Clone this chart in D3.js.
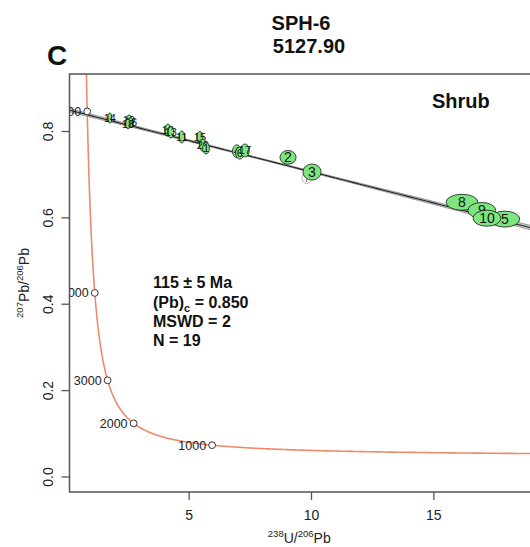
<!DOCTYPE html>
<html>
<head>
<meta charset="utf-8">
<script src="https://cdn.jsdelivr.net/npm/d3@7"></script>
<style>
  html, body { margin: 0; padding: 0; background: #fff; }
  svg { display: block; font-family: "Liberation Sans", Arial, sans-serif; }
</style>
</head>
<body>
<svg id="chart" width="530" height="547"></svg>
<script>
// Tera-Wasserburg plot, sample SPH-6 (5127.90)
const sampleName = "SPH-6";
const sampleDepth = "5127.90";
const panelLetter = "C";
const facies = "Shrub";

// Accepted analyses: label, 238U/206Pb, 207Pb/206Pb, half-axes (x, y) of error ellipses
const pointLabels = ["14", "19", "16", "18", "12", "13", "11", "15", "20", "1", "4", "6", "17", "2", "3", "8", "9", "5", "10"];
const uPb   = [1.78, 2.56, 2.64, 2.52, 4.15, 4.27, 4.72, 5.46, 5.58, 5.71, 6.97, 7.09, 7.30, 9.06, 10.04, 16.17, 16.98, 17.92, 17.19];
const pbPb  = [0.830, 0.825, 0.820, 0.816, 0.802, 0.797, 0.786, 0.786, 0.767, 0.760, 0.753, 0.749, 0.755, 0.739, 0.705, 0.635, 0.616, 0.596, 0.598];
const errX  = [0.08, 0.10, 0.09, 0.09, 0.13, 0.12, 0.12, 0.13, 0.14, 0.14, 0.18, 0.17, 0.18, 0.33, 0.37, 0.65, 0.57, 0.61, 0.57];
const errY  = [0.012, 0.012, 0.011, 0.011, 0.014, 0.013, 0.014, 0.013, 0.014, 0.013, 0.015, 0.014, 0.015, 0.016, 0.0185, 0.0185, 0.0185, 0.0185, 0.0185];

// Rejected analysis
const rejectedLabels = ["7"];
const rejectedUPb = [9.83];
const rejectedPbPb = [0.691];
const rejectedErrX = [0.20];
const rejectedErrY = [0.013];

// Regression result
const ageMa = 115;
const ageErrMa = 5;
const commonPb = 0.850;
const mswd = 2;
const nPoints = 19;

// Concordia age markers (Ma) and axis ticks
const concordiaTicks = [1000, 2000, 3000, 4000, 5000];
const xTicks = [5, 10, 15];
const yTicks = [0.0, 0.2, 0.4, 0.6, 0.8];

// Decay constants (per year) and present-day 238U/235U
const L238 = 1.55125e-10, L235 = 9.8485e-10, U238_235 = 137.88;
function concordia(tMa) {
  const t = tMa * 1e6;
  const e8 = Math.exp(L238 * t) - 1, e5 = Math.exp(L235 * t) - 1;
  return [1 / e8, e5 / e8 / U238_235];
}

const svg = d3.select("#chart");
const pLeft = 69.5, pRight = 531, pTop = 74, pBottom = 492;

const x = d3.scaleLinear().domain([0.13, 18.99]).range([pLeft, pRight]);
const y = d3.scaleLinear().domain([-0.036, 0.932]).range([pBottom, pTop]);

svg.append("defs").append("clipPath").attr("id", "plotClip")
  .append("rect").attr("x", pLeft).attr("y", pTop).attr("width", pRight - pLeft).attr("height", pBottom - pTop);

const plot = svg.append("g").attr("clip-path", "url(#plotClip)");

// Concordia curve
const curveAges = d3.range(250, 5400, 5);
plot.append("path")
  .datum(curveAges.map(concordia))
  .attr("fill", "none")
  .attr("stroke", "#ee8a6c")
  .attr("stroke-width", 1.6)
  .attr("d", d3.line().x(d => x(d[0])).y(d => y(d[1])));

// Discordia regression line with error envelope
const lowerIntercept = concordia(ageMa);
const slope = (lowerIntercept[1] - commonPb) / lowerIntercept[0];
const lineAt = xv => commonPb + slope * xv;
const xs = d3.range(0, 20.01, 0.25);
const halfWidth = xv => Math.sqrt(0.0015 * 0.0015 + Math.pow(0.00045 * (xv - 8), 2));
plot.append("path")
  .datum(xs)
  .attr("fill", "#c8c8c8")
  .attr("stroke", "#8a8a8a")
  .attr("stroke-width", 0.8)
  .attr("d", d3.area()
    .x(d => x(d))
    .y0(d => y(lineAt(d) - halfWidth(d)))
    .y1(d => y(lineAt(d) + halfWidth(d))));
plot.append("path")
  .datum(xs)
  .attr("fill", "none")
  .attr("stroke", "#222")
  .attr("stroke-width", 1.1)
  .attr("d", d3.line().x(d => x(d)).y(d => y(lineAt(d))));

// Concordia age markers
concordiaTicks.forEach(a => {
  const p = concordia(a);
  plot.append("circle")
    .attr("cx", x(p[0])).attr("cy", y(p[1])).attr("r", 3.4)
    .attr("fill", "#fff").attr("stroke", "#333").attr("stroke-width", 1);
  plot.append("text")
    .attr("x", x(p[0]) - 6).attr("y", y(p[1]) + 4.5)
    .attr("text-anchor", "end")
    .attr("font-size", 12.5)
    .attr("fill", "#222")
    .text(a);
});

// Rejected analysis
rejectedLabels.forEach((lab, i) => {
  const cx = x(rejectedUPb[i]), cy = y(rejectedPbPb[i]);
  plot.append("ellipse")
    .attr("cx", cx).attr("cy", cy)
    .attr("rx", x(rejectedUPb[i] + rejectedErrX[i]) - cx)
    .attr("ry", cy - y(rejectedPbPb[i] + rejectedErrY[i]))
    .attr("fill", "#fafafa").attr("stroke", "#aaa").attr("stroke-width", 0.8);
  plot.append("text")
    .attr("x", cx).attr("y", cy + 3.5)
    .attr("text-anchor", "middle").attr("font-size", 9)
    .attr("fill", "#444").text(lab);
});

// Accepted analyses: ellipse then its label
pointLabels.forEach((lab, i) => {
  const cx = x(uPb[i]), cy = y(pbPb[i]);
  const rx = x(uPb[i] + errX[i]) - cx;
  const ry = cy - y(pbPb[i] + errY[i]);
  plot.append("ellipse")
    .attr("cx", cx).attr("cy", cy).attr("rx", rx).attr("ry", ry)
    .attr("fill", "#7ee67e").attr("stroke", "#1a1a1a").attr("stroke-width", 0.8);
  const big = rx > 6;
  plot.append("text")
    .attr("x", cx).attr("y", cy + (big ? 5 : 4))
    .attr("text-anchor", "middle")
    .attr("font-size", big ? 14 : 11)
    .attr("fill", "#111")
    .text(lab);
});

// Frame (right side falls outside the page)
svg.append("path")
  .attr("d", `M${pRight},${pTop}H${pLeft}V${pBottom}H${pRight}`)
  .attr("fill", "none").attr("stroke", "#555").attr("stroke-width", 1.5);

// Axes
const xAxis = d3.axisBottom(x).tickValues(xTicks).tickSize(8).tickPadding(10).tickFormat(d3.format("d"));
const gx = svg.append("g").attr("transform", `translate(0,${pBottom})`).call(xAxis);
gx.select(".domain").remove();
gx.selectAll("line").attr("stroke", "#555").attr("stroke-width", 1.3);
gx.selectAll("text").attr("font-size", 14).attr("fill", "#222")
  .attr("font-family", "'Liberation Sans', Arial, sans-serif");

const yAxis = d3.axisLeft(y).tickValues(yTicks).tickSize(8).tickFormat(d3.format(".1f"));
const gy = svg.append("g").attr("transform", `translate(${pLeft},0)`).call(yAxis);
gy.select(".domain").remove();
gy.selectAll("line").attr("stroke", "#555").attr("stroke-width", 1.3);
gy.selectAll("text")
  .attr("font-size", 14).attr("fill", "#222")
  .attr("font-family", "'Liberation Sans', Arial, sans-serif")
  .attr("x", null).attr("dy", null)
  .attr("text-anchor", "middle")
  .attr("transform", "translate(-17,0) rotate(-90)");

// Axis titles
const xt = svg.append("text")
  .attr("x", (pLeft + 529) / 2).attr("y", 543)
  .attr("text-anchor", "middle").attr("font-size", 14).attr("fill", "#222");
xt.append("tspan").attr("font-size", 9.5).attr("dy", -6).text("238");
xt.append("tspan").attr("dy", 6).text("U/");
xt.append("tspan").attr("font-size", 9.5).attr("dy", -6).text("206");
xt.append("tspan").attr("dy", 6).text("Pb");

const yt = svg.append("text")
  .attr("transform", `translate(29,${(pTop + pBottom) / 2}) rotate(-90)`)
  .attr("text-anchor", "middle").attr("font-size", 14).attr("fill", "#222");
yt.append("tspan").attr("font-size", 9.5).attr("dy", -6).text("207");
yt.append("tspan").attr("dy", 6).text("Pb/");
yt.append("tspan").attr("font-size", 9.5).attr("dy", -6).text("206");
yt.append("tspan").attr("dy", 6).text("Pb");

// Headings
svg.append("text").attr("x", 301).attr("y", 30).attr("text-anchor", "middle")
  .attr("font-size", 20).attr("font-weight", "bold").attr("fill", "#111").text(sampleName);
svg.append("text").attr("x", 309).attr("y", 53).attr("text-anchor", "middle")
  .attr("font-size", 20).attr("font-weight", "bold").attr("fill", "#111").text(sampleDepth);
svg.append("text").attr("x", 47).attr("y", 65)
  .attr("font-size", 28).attr("font-weight", "bold").attr("fill", "#111").text(panelLetter);
svg.append("text").attr("x", 432).attr("y", 108)
  .attr("font-size", 20).attr("font-weight", "bold").attr("fill", "#111").text(facies);

// Regression summary
const info = svg.append("g").attr("font-size", 16).attr("font-weight", "bold").attr("fill", "#111");
info.append("text").attr("x", 153).attr("y", 288).text(`${ageMa} \u00B1 ${ageErrMa} Ma`);
const pbLine = info.append("text").attr("x", 153).attr("y", 307.5);
pbLine.append("tspan").text("(Pb)");
pbLine.append("tspan").attr("font-size", 11).attr("dy", 4).text("c");
pbLine.append("tspan").attr("dy", -4).text(` = ${commonPb.toFixed(3)}`);
info.append("text").attr("x", 153).attr("y", 327).text(`MSWD = ${mswd}`);
info.append("text").attr("x", 153).attr("y", 346).text(`N = ${nPoints}`);
</script>
</body>
</html>
